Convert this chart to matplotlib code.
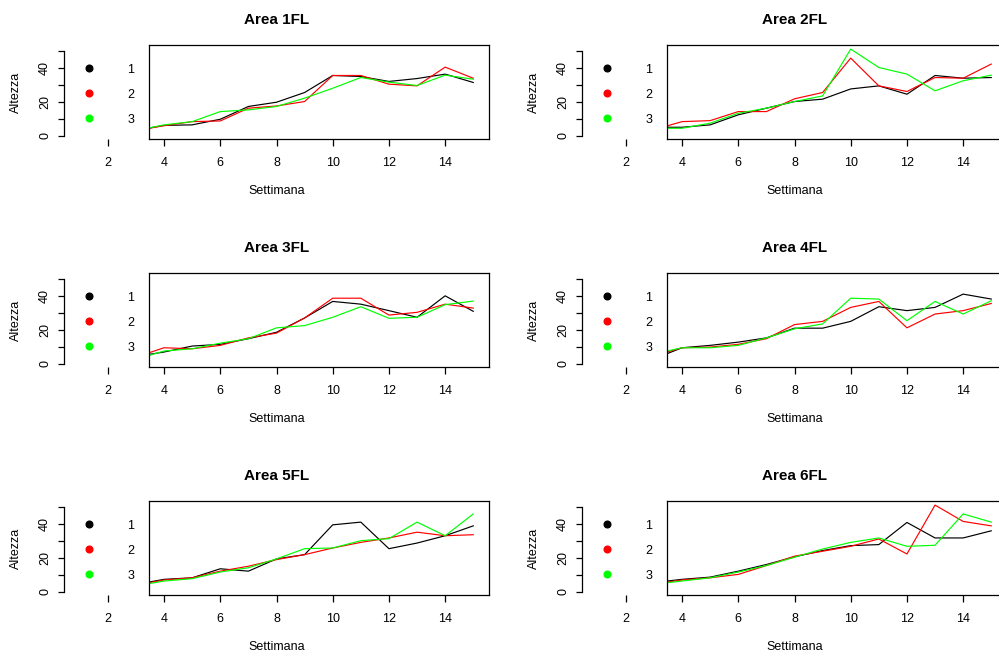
import matplotlib
matplotlib.use("Agg")
import matplotlib.pyplot as plt
from matplotlib.lines import Line2D

plt.rcParams["font.family"] = ["Liberation Sans", "DejaVu Sans"]

# settimane (la prima resta in parte nascosta sotto la legenda)
settimane = [3, 4, 5, 6, 7, 8, 9, 10, 11, 12, 13, 14, 15]
titoli = ["Area 1FL", "Area 2FL", "Area 3FL", "Area 4FL", "Area 5FL", "Area 6FL"]
etichette = ["1", "2", "3"]
colori = ["black", "red", "#00ff00"]

area1_1 = [3.2, 6.2, 6.5, 9.8, 17.3, 19.8, 25.5, 35.5, 34.9, 32.0, 33.7, 36.3, 31.4]
area1_2 = [3.2, 6.0, 8.4, 8.8, 16.3, 17.6, 20.2, 35.5, 35.5, 30.4, 29.4, 40.4, 33.9]
area1_3 = [3.2, 6.5, 8.4, 14.3, 15.3, 17.3, 22.2, 28.0, 34.3, 31.6, 29.6, 35.7, 33.3]

area2_1 = [5.1, 5.1, 6.5, 12.4, 16.3, 20.2, 21.6, 27.6, 29.4, 24.5, 35.5, 33.9, 34.3]
area2_2 = [3.7, 8.4, 9.0, 14.3, 14.3, 21.8, 25.5, 45.7, 29.4, 26.1, 34.3, 33.9, 42.2]
area2_3 = [4.5, 4.5, 7.5, 13.3, 16.3, 20.2, 23.5, 51.0, 40.2, 36.3, 26.5, 32.4, 35.7]

area3_1 = [4.4, 7.0, 10.5, 11.5, 14.8, 18.6, 27.0, 36.7, 35.1, 31.3, 27.4, 40.0, 30.9]
area3_2 = [4.0, 9.5, 8.9, 10.9, 15.3, 18.1, 27.0, 38.6, 38.6, 28.7, 30.3, 35.1, 32.8]
area3_3 = [2.7, 7.6, 8.9, 12.2, 14.8, 21.2, 22.5, 27.4, 33.6, 26.8, 27.4, 34.8, 36.9]

area4_1 = [3.0, 9.5, 10.9, 12.8, 15.3, 21.0, 21.0, 25.0, 33.6, 31.3, 33.2, 41.0, 38.1]
area4_2 = [4.8, 9.5, 9.9, 11.5, 14.8, 23.1, 25.0, 33.2, 36.7, 21.2, 29.3, 31.3, 35.5]
area4_3 = [5.9, 9.5, 9.5, 10.9, 15.3, 20.6, 23.5, 38.6, 38.1, 25.4, 36.7, 29.3, 37.1]

area5_1 = [4.4, 7.4, 8.3, 13.6, 12.2, 19.4, 21.9, 39.4, 41.0, 25.4, 28.7, 33.0, 38.8]
area5_2 = [4.0, 7.0, 8.3, 12.2, 15.1, 19.0, 21.9, 25.8, 29.1, 31.7, 35.1, 33.0, 33.6]
area5_3 = [3.6, 6.4, 7.8, 11.7, 14.2, 19.4, 25.4, 25.8, 30.1, 31.3, 41.0, 33.0, 45.8]

area6_1 = [5.5, 7.4, 8.7, 12.2, 16.1, 20.6, 24.3, 27.2, 27.8, 40.8, 31.7, 31.7, 35.9]
area6_2 = [4.7, 7.0, 8.3, 10.3, 15.5, 21.0, 23.9, 26.8, 31.1, 22.3, 51.0, 41.4, 38.8]
area6_3 = [4.5, 6.4, 8.3, 11.7, 15.5, 20.4, 25.2, 29.1, 31.7, 26.8, 27.4, 45.8, 41.0]

aree = [
    (area1_1, area1_2, area1_3),
    (area2_1, area2_2, area2_3),
    (area3_1, area3_2, area3_3),
    (area4_1, area4_2, area4_3),
    (area5_1, area5_2, area5_3),
    (area6_1, area6_2, area6_3),
]

W, H = 999, 653
XLIM = (0.44, 15.56)
YLIM = (-1.8, 53.4)
BOX_X = 3.47
FS = 9

fig = plt.figure(figsize=(W / 100, H / 100), dpi=100)

for i, (titolo, serie) in enumerate(zip(titoli, aree)):
    r, c = divmod(i, 2)
    left = [64, 582][c]
    top = [45, 273, 501][r]
    ax = fig.add_axes([left / W, 1 - (top + 94) / H, 425 / W, 94 / H])
    ax.set_xlim(*XLIM)
    ax.set_ylim(*YLIM)
    for s in ["top", "right", "bottom"]:
        ax.spines[s].set_visible(False)
    ax.spines["left"].set_bounds(0, 50)
    ax.spines["left"].set_linewidth(0.9)
    ax.set_yticks([0, 10, 20, 30, 40, 50])
    ax.set_yticklabels(["0", "", "20", "", "40", ""], rotation=90, va="center")
    ax.set_xticks([2])
    ax.tick_params(axis="y", length=4.3, width=0.9, pad=5, labelsize=FS)
    ax.tick_params(axis="x", length=5, width=0.9, pad=8, labelsize=FS)
    ax.set_title(titolo, fontsize=11, fontweight="bold", pad=15)
    ax.set_ylabel("Altezza", fontsize=FS)
    ax.yaxis.set_label_coords(-0.10, 0.5)
    ax.set_xlabel("Settimana", fontsize=FS)
    ax.xaxis.set_label_coords(0.5, -0.49)

    maniglie = [Line2D([], [], linestyle="none", marker="o", markersize=4.8,
                       color=col) for col in colori]
    ax.legend(maniglie, etichette, loc="center", bbox_to_anchor=(2.03, 24.3),
              bbox_transform=ax.transData, frameon=False, fontsize=FS,
              handlelength=1.0, handletextpad=2.53, labelspacing=1.04,
              borderpad=0)

    box = ax.inset_axes([BOX_X, YLIM[0], XLIM[1] - BOX_X, YLIM[1] - YLIM[0]],
                        transform=ax.transData)
    for y, col in zip(serie, colori):
        box.plot(settimane, y, color=col, linewidth=0.85)
    box.set_xlim(BOX_X, XLIM[1])
    box.set_ylim(*YLIM)
    box.set_xticks([4, 6, 8, 10, 12, 14])
    box.set_yticks([])
    box.tick_params(axis="x", length=5, width=0.9, pad=8, labelsize=FS)
    for s in box.spines.values():
        s.set_linewidth(0.9)

fig.savefig("out.png", dpi=100)
